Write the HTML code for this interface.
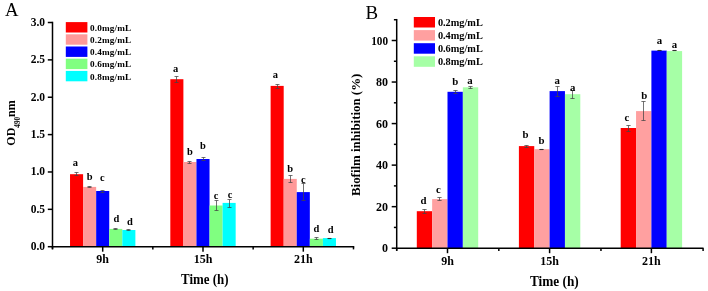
<!DOCTYPE html>
<html><head><meta charset="utf-8"><style>
html,body{margin:0;padding:0;background:#fff;}
svg{display:block;will-change:transform;}
text{font-family:"Liberation Serif", serif;font-weight:bold;fill:#000;}
</style></head><body>
<svg width="708" height="291" viewBox="0 0 708 291">
<rect width="708" height="291" fill="#fff"/>
<rect x="70.03" y="174.20" width="13.07" height="72.50" fill="#ff0000"/>
<rect x="83.09" y="186.90" width="13.07" height="59.80" fill="#ff9999"/>
<rect x="96.17" y="191.00" width="13.07" height="55.70" fill="#0000ff"/>
<rect x="109.24" y="228.90" width="13.07" height="17.80" fill="#80ff80"/>
<rect x="122.31" y="230.00" width="13.07" height="16.70" fill="#00ffff"/>
<rect x="170.32" y="79.20" width="13.07" height="167.50" fill="#ff0000"/>
<rect x="183.39" y="162.00" width="13.07" height="84.70" fill="#ff9999"/>
<rect x="196.46" y="159.00" width="13.07" height="87.70" fill="#0000ff"/>
<rect x="209.53" y="205.50" width="13.07" height="41.20" fill="#80ff80"/>
<rect x="222.60" y="202.90" width="13.07" height="43.80" fill="#00ffff"/>
<rect x="270.62" y="85.90" width="13.07" height="160.80" fill="#ff0000"/>
<rect x="283.69" y="178.90" width="13.07" height="67.80" fill="#ff9999"/>
<rect x="296.76" y="192.10" width="13.07" height="54.60" fill="#0000ff"/>
<rect x="309.83" y="238.70" width="13.07" height="8.00" fill="#80ff80"/>
<rect x="322.90" y="238.10" width="13.07" height="8.60" fill="#00ffff"/>
<path d="M74.50 172.50H78.50M76.50 172.50V175.50M74.50 175.50H78.50" stroke="#444" stroke-width="0.75" fill="none"/>
<text transform="translate(75.36,166.30) scale(0.92,1)" font-size="11.4" text-anchor="middle">a</text>
<path d="M87.50 186.50H91.50M89.50 186.50V187.50M87.50 187.50H91.50" stroke="#444" stroke-width="0.75" fill="none"/>
<text transform="translate(89.63,180.40) scale(0.92,1)" font-size="11.4" text-anchor="middle">b</text>
<path d="M100.50 190.50H104.50M102.50 190.50V192.50M100.50 192.50H104.50" stroke="#444" stroke-width="0.75" fill="none"/>
<text transform="translate(102.20,181.40) scale(0.92,1)" font-size="11.4" text-anchor="middle">c</text>
<path d="M113.50 228.50H117.50M115.50 228.50V229.50M113.50 229.50H117.50" stroke="#444" stroke-width="0.75" fill="none"/>
<text transform="translate(116.37,222.10) scale(0.92,1)" font-size="11.4" text-anchor="middle">d</text>
<path d="M126.50 229.50H130.50M128.50 229.50V230.50M126.50 230.50H130.50" stroke="#444" stroke-width="0.75" fill="none"/>
<text transform="translate(129.84,225.10) scale(0.92,1)" font-size="11.4" text-anchor="middle">d</text>
<path d="M174.50 76.50H178.50M176.50 76.50V82.50M174.50 82.50H178.50" stroke="#444" stroke-width="0.75" fill="none"/>
<text transform="translate(175.66,72.00) scale(0.92,1)" font-size="11.4" text-anchor="middle">a</text>
<path d="M187.50 161.50H191.50M189.50 161.50V163.50M187.50 163.50H191.50" stroke="#444" stroke-width="0.75" fill="none"/>
<text transform="translate(189.93,155.20) scale(0.92,1)" font-size="11.4" text-anchor="middle">b</text>
<path d="M201.50 157.50H205.50M203.50 157.50V160.50M201.50 160.50H205.50" stroke="#444" stroke-width="0.75" fill="none"/>
<text transform="translate(203.00,149.00) scale(0.92,1)" font-size="11.4" text-anchor="middle">b</text>
<path d="M214.50 200.50H218.50M216.50 200.50V210.50M214.50 210.50H218.50" stroke="#444" stroke-width="0.75" fill="none"/>
<text transform="translate(216.07,198.80) scale(0.92,1)" font-size="11.4" text-anchor="middle">c</text>
<path d="M227.50 199.50H231.50M229.50 199.50V207.50M227.50 207.50H231.50" stroke="#444" stroke-width="0.75" fill="none"/>
<text transform="translate(230.14,197.70) scale(0.92,1)" font-size="11.4" text-anchor="middle">c</text>
<path d="M275.50 84.50H279.50M277.50 84.50V88.50M275.50 88.50H279.50" stroke="#444" stroke-width="0.75" fill="none"/>
<text transform="translate(275.36,78.00) scale(0.92,1)" font-size="11.4" text-anchor="middle">a</text>
<path d="M288.50 175.50H292.50M290.50 175.50V182.50M288.50 182.50H292.50" stroke="#444" stroke-width="0.75" fill="none"/>
<text transform="translate(290.23,171.60) scale(0.92,1)" font-size="11.4" text-anchor="middle">b</text>
<path d="M301.50 183.50H305.50M303.50 183.50V200.50M301.50 200.50H305.50" stroke="#444" stroke-width="0.75" fill="none"/>
<text transform="translate(303.30,182.50) scale(0.92,1)" font-size="11.4" text-anchor="middle">c</text>
<path d="M314.50 237.50H318.50M316.50 237.50V239.50M314.50 239.50H318.50" stroke="#444" stroke-width="0.75" fill="none"/>
<text transform="translate(316.37,231.90) scale(0.92,1)" font-size="11.4" text-anchor="middle">d</text>
<path d="M327.50 238.50H331.50" stroke="#333" stroke-width="1.1" fill="none"/>
<text transform="translate(330.74,232.70) scale(0.92,1)" font-size="11.4" text-anchor="middle">d</text>
<line x1="52.50" y1="21.75" x2="52.50" y2="249.20" stroke="#000" stroke-width="1.5"/>
<line x1="51.75" y1="246.70" x2="354.25" y2="246.70" stroke="#000" stroke-width="1.5"/>
<line x1="47.80" y1="246.70" x2="52.50" y2="246.70" stroke="#000" stroke-width="1.5"/>
<text x="45.00" y="250.20" font-size="11.5" text-anchor="end" >0.0</text>
<line x1="47.80" y1="209.33" x2="52.50" y2="209.33" stroke="#000" stroke-width="1.5"/>
<text x="45.00" y="212.83" font-size="11.5" text-anchor="end" >0.5</text>
<line x1="47.80" y1="171.97" x2="52.50" y2="171.97" stroke="#000" stroke-width="1.5"/>
<text x="45.00" y="175.47" font-size="11.5" text-anchor="end" >1.0</text>
<line x1="47.80" y1="134.60" x2="52.50" y2="134.60" stroke="#000" stroke-width="1.5"/>
<text x="45.00" y="138.10" font-size="11.5" text-anchor="end" >1.5</text>
<line x1="47.80" y1="97.24" x2="52.50" y2="97.24" stroke="#000" stroke-width="1.5"/>
<text x="45.00" y="100.74" font-size="11.5" text-anchor="end" >2.0</text>
<line x1="47.80" y1="59.87" x2="52.50" y2="59.87" stroke="#000" stroke-width="1.5"/>
<text x="45.00" y="63.37" font-size="11.5" text-anchor="end" >2.5</text>
<line x1="47.80" y1="22.51" x2="52.50" y2="22.51" stroke="#000" stroke-width="1.5"/>
<text x="45.00" y="26.01" font-size="11.5" text-anchor="end" >3.0</text>
<line x1="52.50" y1="246.70" x2="52.50" y2="249.40" stroke="#000" stroke-width="1.5"/>
<line x1="152.83" y1="246.70" x2="152.83" y2="249.40" stroke="#000" stroke-width="1.5"/>
<line x1="253.16" y1="246.70" x2="253.16" y2="249.40" stroke="#000" stroke-width="1.5"/>
<line x1="353.49" y1="246.70" x2="353.49" y2="249.40" stroke="#000" stroke-width="1.5"/>
<line x1="102.70" y1="246.70" x2="102.70" y2="251.70" stroke="#000" stroke-width="1.5"/>
<line x1="203.00" y1="246.70" x2="203.00" y2="251.70" stroke="#000" stroke-width="1.5"/>
<line x1="303.30" y1="246.70" x2="303.30" y2="251.70" stroke="#000" stroke-width="1.5"/>
<text x="102.70" y="263.00" font-size="12" text-anchor="middle" >9h</text>
<text x="203.00" y="263.00" font-size="12" text-anchor="middle" >15h</text>
<text x="303.30" y="263.00" font-size="12" text-anchor="middle" >21h</text>
<text x="181.00" y="283.60" font-size="14.5" text-anchor="start" textLength="47.50" lengthAdjust="spacingAndGlyphs" >Time (h)</text>
<text transform="translate(15.3,145.7) rotate(-90)" font-size="12" text-anchor="start">OD<tspan font-size="7.2" dy="4.7">490</tspan><tspan dy="-4.7">nm</tspan></text>
<text x="5.00" y="15.90" font-size="18.7" text-anchor="start" style="font-weight:normal">A</text>
<rect x="65.80" y="22.10" width="21.60" height="10.40" fill="#ff0000"/>
<text x="90.00" y="30.80" font-size="9.2" text-anchor="start" textLength="41.20" lengthAdjust="spacing" >0.0mg/mL</text>
<rect x="65.80" y="34.30" width="21.60" height="10.40" fill="#ff9999"/>
<text x="90.00" y="43.00" font-size="9.2" text-anchor="start" textLength="41.20" lengthAdjust="spacing" >0.2mg/mL</text>
<rect x="65.80" y="46.50" width="21.60" height="10.40" fill="#0000ff"/>
<text x="90.00" y="55.20" font-size="9.2" text-anchor="start" textLength="41.20" lengthAdjust="spacing" >0.4mg/mL</text>
<rect x="65.80" y="58.70" width="21.60" height="10.40" fill="#80ff80"/>
<text x="90.00" y="67.40" font-size="9.2" text-anchor="start" textLength="41.20" lengthAdjust="spacing" >0.6mg/mL</text>
<rect x="65.80" y="70.90" width="21.60" height="10.40" fill="#00ffff"/>
<text x="90.00" y="79.60" font-size="9.2" text-anchor="start" textLength="41.20" lengthAdjust="spacing" >0.8mg/mL</text>
<rect x="416.80" y="211.20" width="15.35" height="37.00" fill="#ff0000"/>
<rect x="432.15" y="199.10" width="15.35" height="49.10" fill="#ffa0a0"/>
<rect x="447.50" y="91.80" width="15.35" height="156.40" fill="#0000ff"/>
<rect x="462.85" y="87.30" width="15.35" height="160.90" fill="#a6ffa6"/>
<rect x="518.90" y="146.10" width="15.35" height="102.10" fill="#ff0000"/>
<rect x="534.25" y="149.20" width="15.35" height="99.00" fill="#ffa0a0"/>
<rect x="549.60" y="91.10" width="15.35" height="157.10" fill="#0000ff"/>
<rect x="564.95" y="94.20" width="15.35" height="154.00" fill="#a6ffa6"/>
<rect x="620.70" y="128.00" width="15.35" height="120.20" fill="#ff0000"/>
<rect x="636.05" y="111.10" width="15.35" height="137.10" fill="#ffa0a0"/>
<rect x="651.40" y="50.60" width="15.35" height="197.60" fill="#0000ff"/>
<rect x="666.75" y="51.10" width="15.35" height="197.10" fill="#a6ffa6"/>
<path d="M422.40 209.50H426.60M424.50 209.50V213.50M422.40 213.50H426.60" stroke="#444" stroke-width="0.75" fill="none"/>
<text transform="translate(423.48,203.90) scale(0.95,1)" font-size="11.4" text-anchor="middle">d</text>
<path d="M437.40 197.50H441.60M439.50 197.50V200.50M437.40 200.50H441.60" stroke="#444" stroke-width="0.75" fill="none"/>
<text transform="translate(438.32,192.90) scale(0.95,1)" font-size="11.4" text-anchor="middle">c</text>
<path d="M453.40 90.50H457.60M455.50 90.50V93.50M453.40 93.50H457.60" stroke="#444" stroke-width="0.75" fill="none"/>
<text transform="translate(455.18,84.90) scale(0.95,1)" font-size="11.4" text-anchor="middle">b</text>
<path d="M468.40 86.50H472.60M470.50 86.50V88.50M468.40 88.50H472.60" stroke="#444" stroke-width="0.75" fill="none"/>
<text transform="translate(470.03,84.20) scale(0.95,1)" font-size="11.4" text-anchor="middle">a</text>
<path d="M524.40 145.50H528.60M526.50 145.50V147.50M524.40 147.50H528.60" stroke="#444" stroke-width="0.75" fill="none"/>
<text transform="translate(525.57,137.60) scale(0.95,1)" font-size="11.4" text-anchor="middle">b</text>
<path d="M539.40 149.50H543.60" stroke="#333" stroke-width="1.1" fill="none"/>
<text transform="translate(541.42,144.30) scale(0.95,1)" font-size="11.4" text-anchor="middle">b</text>
<path d="M555.40 86.50H559.60M557.50 86.50V96.50M555.40 96.50H559.60" stroke="#444" stroke-width="0.75" fill="none"/>
<text transform="translate(557.27,84.20) scale(0.95,1)" font-size="11.4" text-anchor="middle">a</text>
<path d="M570.40 90.50H574.60M572.50 90.50V98.50M570.40 98.50H574.60" stroke="#444" stroke-width="0.75" fill="none"/>
<text transform="translate(572.62,90.60) scale(0.95,1)" font-size="11.4" text-anchor="middle">a</text>
<path d="M626.40 125.50H630.60M628.50 125.50V131.50M626.40 131.50H630.60" stroke="#444" stroke-width="0.75" fill="none"/>
<text transform="translate(626.87,120.80) scale(0.95,1)" font-size="11.4" text-anchor="middle">c</text>
<path d="M641.40 101.50H645.60M643.50 101.50V120.50M641.40 120.50H645.60" stroke="#444" stroke-width="0.75" fill="none"/>
<text transform="translate(644.22,99.40) scale(0.95,1)" font-size="11.4" text-anchor="middle">b</text>
<path d="M657.40 50.50H661.60" stroke="#333" stroke-width="1.1" fill="none"/>
<text transform="translate(659.47,43.70) scale(0.95,1)" font-size="11.4" text-anchor="middle">a</text>
<path d="M672.40 50.50H676.60" stroke="#333" stroke-width="1.1" fill="none"/>
<text transform="translate(674.42,47.50) scale(0.95,1)" font-size="11.4" text-anchor="middle">a</text>
<line x1="396.70" y1="18.95" x2="396.70" y2="250.70" stroke="#000" stroke-width="1.5"/>
<line x1="395.95" y1="248.20" x2="703.55" y2="248.20" stroke="#000" stroke-width="1.5"/>
<line x1="391.70" y1="248.20" x2="396.70" y2="248.20" stroke="#000" stroke-width="1.5"/>
<text x="388.00" y="252.30" font-size="12" text-anchor="end" >0</text>
<line x1="393.90" y1="227.43" x2="396.70" y2="227.43" stroke="#000" stroke-width="1.5"/>
<line x1="391.70" y1="206.66" x2="396.70" y2="206.66" stroke="#000" stroke-width="1.5"/>
<text x="388.00" y="210.76" font-size="12" text-anchor="end" >20</text>
<line x1="393.90" y1="185.89" x2="396.70" y2="185.89" stroke="#000" stroke-width="1.5"/>
<line x1="391.70" y1="165.12" x2="396.70" y2="165.12" stroke="#000" stroke-width="1.5"/>
<text x="388.00" y="169.22" font-size="12" text-anchor="end" >40</text>
<line x1="393.90" y1="144.35" x2="396.70" y2="144.35" stroke="#000" stroke-width="1.5"/>
<line x1="391.70" y1="123.58" x2="396.70" y2="123.58" stroke="#000" stroke-width="1.5"/>
<text x="388.00" y="127.68" font-size="12" text-anchor="end" >60</text>
<line x1="393.90" y1="102.81" x2="396.70" y2="102.81" stroke="#000" stroke-width="1.5"/>
<line x1="391.70" y1="82.04" x2="396.70" y2="82.04" stroke="#000" stroke-width="1.5"/>
<text x="388.00" y="86.14" font-size="12" text-anchor="end" >80</text>
<line x1="393.90" y1="61.27" x2="396.70" y2="61.27" stroke="#000" stroke-width="1.5"/>
<line x1="391.70" y1="40.50" x2="396.70" y2="40.50" stroke="#000" stroke-width="1.5"/>
<text x="388.00" y="44.60" font-size="12" text-anchor="end" textLength="16.80" lengthAdjust="spacingAndGlyphs" >100</text>
<line x1="393.90" y1="19.73" x2="396.70" y2="19.73" stroke="#000" stroke-width="1.5"/>
<line x1="396.70" y1="248.20" x2="396.70" y2="250.90" stroke="#000" stroke-width="1.5"/>
<line x1="498.83" y1="248.20" x2="498.83" y2="250.90" stroke="#000" stroke-width="1.5"/>
<line x1="600.96" y1="248.20" x2="600.96" y2="250.90" stroke="#000" stroke-width="1.5"/>
<line x1="703.09" y1="248.20" x2="703.09" y2="250.90" stroke="#000" stroke-width="1.5"/>
<line x1="447.50" y1="248.20" x2="447.50" y2="253.20" stroke="#000" stroke-width="1.5"/>
<line x1="549.60" y1="248.20" x2="549.60" y2="253.20" stroke="#000" stroke-width="1.5"/>
<line x1="651.40" y1="248.20" x2="651.40" y2="253.20" stroke="#000" stroke-width="1.5"/>
<text x="447.50" y="264.80" font-size="12" text-anchor="middle" >9h</text>
<text x="549.60" y="264.80" font-size="12" text-anchor="middle" >15h</text>
<text x="651.40" y="264.80" font-size="12" text-anchor="middle" >21h</text>
<text x="530.00" y="285.60" font-size="14.5" text-anchor="start" textLength="48.80" lengthAdjust="spacingAndGlyphs" >Time (h)</text>
<text transform="translate(360.2,196) rotate(-90)" font-size="11.5" text-anchor="start" textLength="122.3" lengthAdjust="spacingAndGlyphs">Biofilm inhibition (%)</text>
<text x="365.50" y="18.70" font-size="18.9" text-anchor="start" style="font-weight:normal">B</text>
<rect x="413.80" y="17.00" width="21.20" height="10.50" fill="#ff0000"/>
<text x="437.90" y="25.60" font-size="10.3" text-anchor="start" >0.2mg/mL</text>
<rect x="413.80" y="30.10" width="21.20" height="10.50" fill="#ffa0a0"/>
<text x="437.90" y="38.70" font-size="10.3" text-anchor="start" >0.4mg/mL</text>
<rect x="413.80" y="43.20" width="21.20" height="10.50" fill="#0000ff"/>
<text x="437.90" y="51.80" font-size="10.3" text-anchor="start" >0.6mg/mL</text>
<rect x="413.80" y="56.30" width="21.20" height="10.50" fill="#a6ffa6"/>
<text x="437.90" y="64.90" font-size="10.3" text-anchor="start" >0.8mg/mL</text>
</svg>
</body></html>
